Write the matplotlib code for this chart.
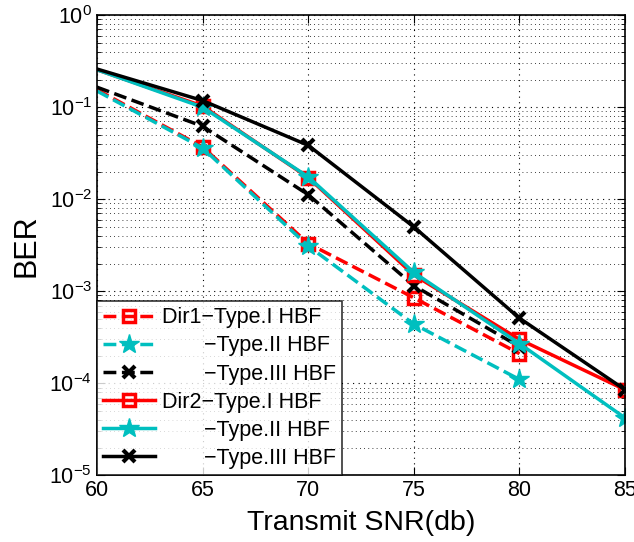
import matplotlib
matplotlib.use("Agg")
import matplotlib.pyplot as plt

plt.rcParams['font.family'] = ['Liberation Sans', 'DejaVu Sans']

snr = [60, 65, 70, 75, 80, 85]
snr_dir1 = [60, 65, 70, 75, 80]

# Dir1 (dashed)
dir1_type1 = [0.155, 0.037, 0.0033, 0.00085, 0.00021]
dir1_type2 = [0.150, 0.036, 0.0031, 0.00044, 0.00011]
dir1_type3 = [0.165, 0.062, 0.0112, 0.00115, 0.00025]
# Dir2 (solid)
dir2_type1 = [0.255, 0.103, 0.0172, 0.00150, 0.00030, 0.000085]
dir2_type2 = [0.255, 0.100, 0.0175, 0.00160, 0.00027, 0.000042]
dir2_type3 = [0.260, 0.118, 0.0385, 0.00500, 0.00051, 0.000085]

pad = "       "
labels = ["Dir1\u2212Type.I HBF", pad + "\u2212Type.II HBF", pad + "\u2212Type.III HBF",
          "Dir2\u2212Type.I HBF", pad + "\u2212Type.II HBF", pad + "\u2212Type.III HBF"]

cyan = (0, 0.75, 0.75)

fig = plt.figure(figsize=(6.34, 5.42), dpi=100)
ax = fig.add_axes([0.153, 0.123, 0.833, 0.849])

lw = 2.5
sq = dict(marker='s', ms=9, mfc='none', mec='red', mew=2.5)
st = dict(marker='*', ms=15, mfc=cyan, mec=cyan)
xx = dict(marker='x', ms=8, mew=3)
me = slice(1, None)  # no markers at the 60 dB edge
ax.plot(snr_dir1, dir1_type1, '--', color='red', lw=lw, markevery=me, label=labels[0], **sq)
ax.plot(snr_dir1, dir1_type2, '--', color=cyan, lw=lw, markevery=me, label=labels[1], **st)
ax.plot(snr_dir1, dir1_type3, '--', color='black', lw=lw, markevery=me, label=labels[2], **xx)
ax.plot(snr, dir2_type1, '-', color='red', lw=lw, markevery=me, label=labels[3], **sq)
ax.plot(snr, dir2_type2, '-', color=cyan, lw=lw, markevery=me, label=labels[4], **st)
ax.plot(snr, dir2_type3, '-', color='black', lw=lw, markevery=me, label=labels[5], **xx)

ax.set_yscale('log')
ax.set_xlim(60, 85)
ax.set_ylim(1e-5, 1)
ax.set_xticks(snr)
ax.grid(True, which='major', linestyle=(0, (1, 4)), color='black', lw=0.8)
ax.grid(True, which='minor', axis='y', linestyle=(0, (1, 4)), color='black', lw=0.6)
ax.tick_params(which='both', direction='in', top=True, right=True, labelsize=15.5)
ax.tick_params(which='major', length=6)
ax.tick_params(which='minor', length=3)
for s in ax.spines.values():
    s.set_linewidth(1.2)

ax.set_xlabel('Transmit SNR(db)', fontsize=20.5, labelpad=6)
ax.set_ylabel('BER', fontsize=22, labelpad=6)

leg = ax.legend(loc='lower left', fontsize=15.5, frameon=True, fancybox=False,
                edgecolor='black', borderaxespad=0, handlelength=2.4,
                handletextpad=0.3, labelspacing=0.33, borderpad=0.3)
leg.get_frame().set_linewidth(1.2)

plt.savefig('out.png', dpi=100)
